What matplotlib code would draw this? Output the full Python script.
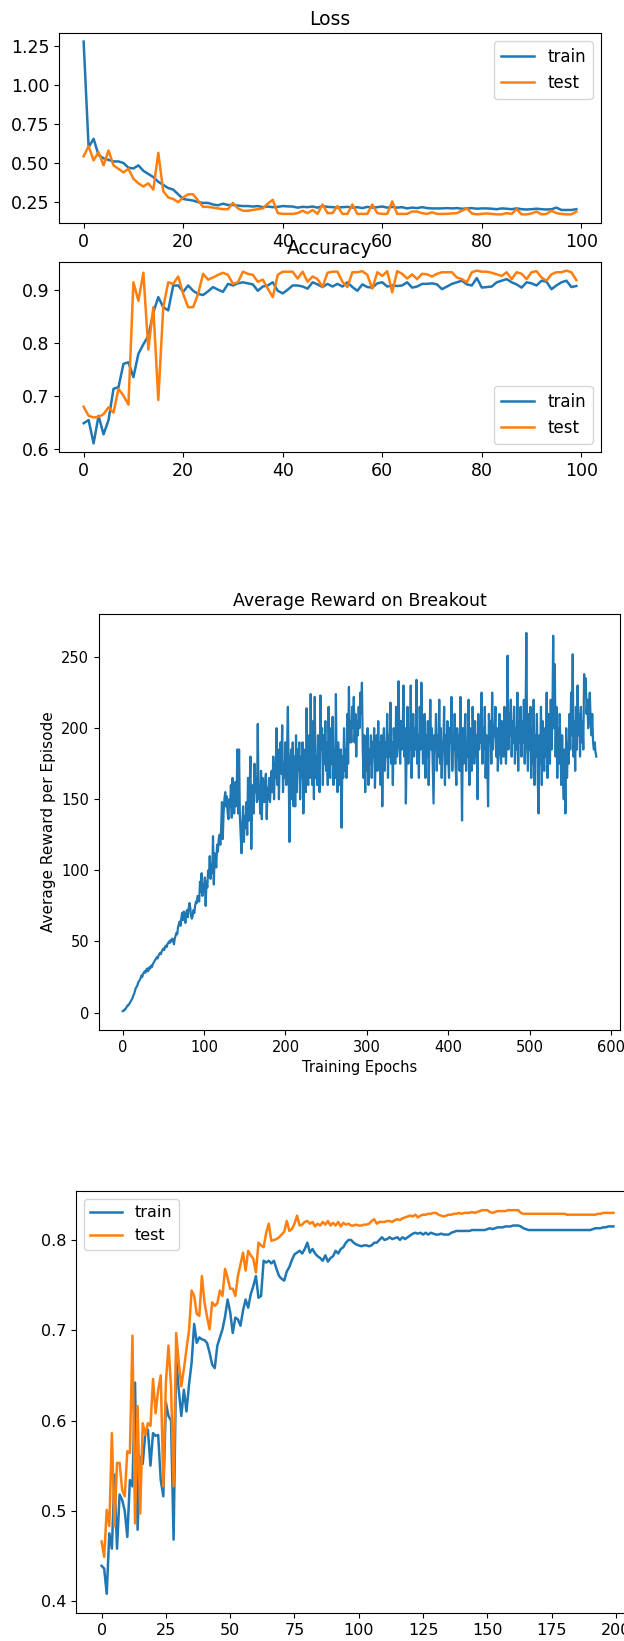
import numpy as np
import matplotlib
matplotlib.use("Agg")
import matplotlib.pyplot as plt

# ---- datos: loss / accuracy (100 epocas) ----
loss_train = [1.275, 0.60, 0.655, 0.55, 0.53, 0.52, 0.51, 0.51, 0.50, 0.47,
              0.465, 0.485, 0.45, 0.43, 0.41, 0.38, 0.36, 0.34, 0.33, 0.30,
              0.27, 0.265, 0.26, 0.25, 0.245, 0.245, 0.235, 0.23, 0.24, 0.232,
              0.232, 0.228, 0.225, 0.225, 0.222, 0.225, 0.218, 0.222, 0.218, 0.22,
              0.225, 0.223, 0.222, 0.215, 0.22, 0.218, 0.222, 0.215, 0.225, 0.22,
              0.218, 0.215, 0.218, 0.22, 0.215, 0.218, 0.212, 0.22, 0.215, 0.218,
              0.222, 0.215, 0.22, 0.215, 0.218, 0.21, 0.215, 0.212, 0.218, 0.212,
              0.21, 0.21, 0.21, 0.212, 0.21, 0.212, 0.208, 0.21, 0.212, 0.208,
              0.21, 0.21, 0.208, 0.205, 0.21, 0.208, 0.205, 0.21, 0.205, 0.203,
              0.205, 0.208, 0.205, 0.203, 0.205, 0.215, 0.20, 0.20, 0.20, 0.205]
loss_test = [0.543, 0.607, 0.517, 0.57, 0.485, 0.58, 0.485, 0.463, 0.44, 0.463,
             0.40, 0.37, 0.35, 0.37, 0.33, 0.565, 0.32, 0.28, 0.27, 0.25,
             0.28, 0.30, 0.30, 0.26, 0.22, 0.22, 0.215, 0.21, 0.205, 0.205,
             0.245, 0.21, 0.195, 0.195, 0.20, 0.205, 0.21, 0.24, 0.265, 0.18,
             0.175, 0.175, 0.175, 0.18, 0.195, 0.18, 0.20, 0.175, 0.235, 0.18,
             0.18, 0.225, 0.175, 0.175, 0.235, 0.175, 0.175, 0.175, 0.235, 0.18,
             0.175, 0.175, 0.255, 0.175, 0.175, 0.175, 0.19, 0.19, 0.18, 0.175,
             0.185, 0.175, 0.175, 0.175, 0.178, 0.18, 0.195, 0.21, 0.178, 0.172,
             0.175, 0.178, 0.175, 0.172, 0.172, 0.18, 0.175, 0.205, 0.172, 0.172,
             0.178, 0.19, 0.172, 0.175, 0.195, 0.18, 0.175, 0.172, 0.172, 0.19]
acc_train = [0.648, 0.654, 0.610, 0.662, 0.627, 0.654, 0.713, 0.716, 0.760, 0.763,
             0.735, 0.779, 0.797, 0.813, 0.857, 0.886, 0.867, 0.861, 0.908, 0.908,
             0.896, 0.908, 0.898, 0.892, 0.890, 0.897, 0.905, 0.900, 0.896, 0.911,
             0.908, 0.912, 0.914, 0.912, 0.910, 0.898, 0.906, 0.908, 0.914, 0.898,
             0.893, 0.900, 0.908, 0.908, 0.906, 0.902, 0.914, 0.910, 0.905, 0.911,
             0.906, 0.911, 0.906, 0.914, 0.905, 0.898, 0.910, 0.905, 0.904, 0.912,
             0.914, 0.906, 0.908, 0.907, 0.908, 0.914, 0.904, 0.906, 0.911, 0.911,
             0.912, 0.910, 0.901, 0.906, 0.911, 0.914, 0.917, 0.910, 0.908, 0.922,
             0.904, 0.905, 0.906, 0.914, 0.917, 0.920, 0.914, 0.910, 0.904, 0.914,
             0.912, 0.908, 0.917, 0.915, 0.901, 0.908, 0.914, 0.917, 0.905, 0.907]
acc_test = [0.679, 0.662, 0.659, 0.660, 0.665, 0.678, 0.668, 0.713, 0.700, 0.683,
            0.914, 0.879, 0.932, 0.787, 0.867, 0.692, 0.867, 0.914, 0.911, 0.925,
            0.892, 0.867, 0.867, 0.892, 0.930, 0.919, 0.923, 0.928, 0.932, 0.928,
            0.911, 0.914, 0.934, 0.930, 0.928, 0.915, 0.919, 0.902, 0.886, 0.928,
            0.934, 0.934, 0.934, 0.921, 0.934, 0.915, 0.925, 0.920, 0.905, 0.932,
            0.934, 0.934, 0.915, 0.905, 0.933, 0.933, 0.935, 0.928, 0.902, 0.933,
            0.926, 0.935, 0.895, 0.935, 0.930, 0.921, 0.929, 0.920, 0.930, 0.929,
            0.925, 0.930, 0.933, 0.933, 0.933, 0.923, 0.920, 0.914, 0.933, 0.936,
            0.934, 0.934, 0.932, 0.929, 0.926, 0.933, 0.920, 0.933, 0.930, 0.920,
            0.933, 0.935, 0.923, 0.917, 0.929, 0.933, 0.933, 0.936, 0.933, 0.918]

# ---- datos: breakout (583 epocas) ----
reward = [
    1, 1, 2, 2, 3, 4, 5, 5, 6, 7, 8, 9, 10, 12, 13, 15, 17, 18, 19, 21,
    22, 23, 24, 26, 25, 27, 28, 29, 28, 30, 31, 29, 30, 32, 31, 33, 32, 34, 35, 36,
    37, 38, 39, 38, 40, 41, 42, 41, 43, 44, 45, 44, 46, 47, 46, 48, 49, 50, 49, 51,
    50, 52, 51, 48, 52, 54, 56, 55, 60, 62, 64, 61, 66, 70, 65, 71, 68, 63, 70, 72,
    67, 73, 77, 74, 68, 66, 68, 72, 70, 75, 78, 77, 82, 80, 78, 92, 85, 98, 82, 90,
    85, 95, 75, 92, 88, 100, 96, 110, 94, 104, 98, 124, 90, 112, 108, 102, 118, 113, 122, 125,
    118, 130, 148, 122, 140, 150, 155, 145, 152, 140, 136, 150, 145, 160, 137, 165, 150, 140, 162, 145,
    155, 185, 140, 185, 138, 125, 112, 132, 145, 120, 138, 130, 148, 125, 165, 135, 158, 180, 115, 150,
    160, 140, 175, 155, 165, 148, 203, 150, 160, 140, 170, 136, 165, 155, 148, 162, 168, 136, 158, 150,
    165, 148, 160, 170, 155, 180, 150, 175, 165, 200, 160, 185, 150, 180, 190, 168, 202, 155, 175, 165,
    190, 160, 185, 215, 170, 120, 175, 185, 150, 190, 145, 180, 145, 195, 155, 185, 170, 190, 150, 180,
    165, 190, 140, 175, 185, 155, 214, 170, 160, 195, 165, 224, 175, 160, 205, 150, 222, 165, 180, 160,
    195, 170, 155, 223, 185, 200, 160, 195, 175, 205, 170, 190, 160, 215, 180, 165, 200, 175, 208, 160,
    185, 165, 224, 170, 155, 190, 175, 160, 185, 130, 180, 165, 200, 170, 185, 165, 210, 175, 229, 190,
    205, 190, 215, 200, 222, 190, 210, 180, 205, 195, 215, 200, 225, 210, 232, 185, 165, 195, 155, 190,
    170, 200, 160, 185, 175, 195, 165, 190, 180, 200, 158, 185, 195, 170, 205, 175, 190, 160, 195, 145,
    185, 200, 170, 190, 180, 210, 165, 195, 180, 218, 175, 190, 160, 200, 185, 175, 215, 180, 195, 233,
    190, 175, 205, 185, 195, 230, 180, 200, 147, 190, 215, 175, 200, 185, 230, 165, 195, 210, 180, 200,
    185, 234, 175, 195, 165, 215, 185, 232, 200, 175, 190, 210, 165, 195, 180, 205, 160, 190, 220, 185,
    200, 175, 147, 195, 185, 210, 170, 195, 180, 220, 175, 200, 165, 190, 185, 215, 160, 195, 175, 205,
    180, 165, 200, 190, 222, 170, 195, 185, 210, 175, 160, 200, 180, 195, 170, 222, 185, 135, 200, 175,
    195, 210, 170, 190, 180, 220, 160, 200, 185, 170, 215, 190, 175, 205, 180, 195, 150, 210, 185, 200,
    190, 225, 175, 200, 185, 215, 165, 195, 180, 145, 210, 190, 205, 175, 225, 185, 200, 195, 215, 180,
    200, 170, 190, 210, 185, 175, 205, 195, 180, 215, 190, 175, 200, 251, 185, 210, 195, 220, 180, 205,
    190, 215, 175, 200, 185, 225, 170, 205, 190, 215, 180, 205, 190, 220, 175, 200, 267, 190, 170, 210,
    185, 215, 165, 200, 175, 220, 160, 195, 180, 210, 165, 140, 195, 175, 215, 160, 205, 185, 170, 200,
    180, 225, 165, 210, 190, 175, 220, 185, 205, 265, 200, 245, 180, 215, 165, 200, 175, 210, 185, 160,
    195, 170, 150, 185, 140, 200, 165, 190, 175, 210, 185, 225, 195, 252, 180, 205, 170, 215, 185, 230,
    195, 210, 180, 215, 190, 205, 185, 238, 230, 235, 210, 220, 200, 215, 225, 205, 195, 210, 190, 185,
    190, 183, 180]

# ---- datos: ultima grafica (200 epocas) ----
acc2_train = [
    0.439, 0.436, 0.408, 0.475, 0.458, 0.540, 0.458, 0.518, 0.512, 0.500,
    0.471, 0.534, 0.527, 0.642, 0.479, 0.560, 0.552, 0.586, 0.590, 0.550,
    0.586, 0.583, 0.584, 0.534, 0.516, 0.620, 0.605, 0.600, 0.468, 0.668,
    0.634, 0.605, 0.634, 0.610, 0.640, 0.664, 0.707, 0.686, 0.692, 0.690,
    0.689, 0.686, 0.675, 0.662, 0.658, 0.683, 0.692, 0.701, 0.715, 0.734,
    0.720, 0.697, 0.714, 0.712, 0.705, 0.722, 0.734, 0.725, 0.740, 0.749,
    0.760, 0.736, 0.738, 0.777, 0.775, 0.777, 0.774, 0.777, 0.768, 0.760,
    0.757, 0.755, 0.765, 0.770, 0.778, 0.784, 0.786, 0.788, 0.785, 0.790,
    0.797, 0.786, 0.790, 0.785, 0.782, 0.780, 0.777, 0.783, 0.776, 0.780,
    0.782, 0.788, 0.785, 0.790, 0.792, 0.797, 0.800, 0.800, 0.797, 0.795,
    0.794, 0.793, 0.794, 0.794, 0.793, 0.794, 0.797, 0.797, 0.800, 0.803,
    0.800, 0.801, 0.803, 0.801, 0.802, 0.803, 0.800, 0.803, 0.801, 0.803,
    0.805, 0.807, 0.808, 0.807, 0.808, 0.806, 0.808, 0.806, 0.808, 0.807,
    0.806, 0.806, 0.807, 0.806, 0.806, 0.806, 0.808, 0.809, 0.810, 0.810,
    0.810, 0.810, 0.810, 0.810, 0.811, 0.811, 0.811, 0.811, 0.811, 0.811,
    0.812, 0.813, 0.812, 0.813, 0.814, 0.814, 0.814, 0.815, 0.815, 0.815,
    0.816, 0.816, 0.816, 0.815, 0.813, 0.812, 0.811, 0.811, 0.811, 0.811,
    0.811, 0.811, 0.811, 0.811, 0.811, 0.811, 0.811, 0.811, 0.811, 0.811,
    0.811, 0.811, 0.811, 0.811, 0.811, 0.811, 0.811, 0.811, 0.811, 0.811,
    0.811, 0.812, 0.813, 0.813, 0.813, 0.814, 0.814, 0.815, 0.815, 0.815]
acc2_test = [
    0.466, 0.449, 0.501, 0.483, 0.586, 0.483, 0.553, 0.553, 0.523, 0.516,
    0.566, 0.564, 0.694, 0.486, 0.616, 0.497, 0.597, 0.584, 0.597, 0.594,
    0.646, 0.608, 0.634, 0.650, 0.527, 0.642, 0.683, 0.638, 0.527, 0.697,
    0.664, 0.638, 0.657, 0.679, 0.700, 0.744, 0.738, 0.718, 0.716, 0.760,
    0.731, 0.715, 0.701, 0.731, 0.727, 0.730, 0.744, 0.738, 0.768, 0.758,
    0.746, 0.746, 0.738, 0.760, 0.773, 0.786, 0.766, 0.788, 0.783, 0.779,
    0.764, 0.797, 0.794, 0.792, 0.808, 0.818, 0.799, 0.800, 0.801, 0.803,
    0.806, 0.809, 0.821, 0.810, 0.812, 0.818, 0.827, 0.816, 0.817, 0.820,
    0.821, 0.818, 0.820, 0.815, 0.818, 0.816, 0.820, 0.817, 0.821, 0.816,
    0.819, 0.816, 0.820, 0.815, 0.819, 0.817, 0.818, 0.816, 0.816, 0.817,
    0.816, 0.816, 0.817, 0.817, 0.818, 0.821, 0.823, 0.818, 0.820, 0.820,
    0.820, 0.821, 0.821, 0.820, 0.822, 0.823, 0.822, 0.824, 0.825, 0.826,
    0.827, 0.826, 0.828, 0.825, 0.827, 0.828, 0.828, 0.829, 0.829, 0.830,
    0.830, 0.828, 0.827, 0.826, 0.827, 0.828, 0.828, 0.829, 0.829, 0.830,
    0.829, 0.830, 0.830, 0.830, 0.831, 0.830, 0.831, 0.832, 0.833, 0.833,
    0.833, 0.831, 0.830, 0.831, 0.832, 0.832, 0.832, 0.832, 0.833, 0.833,
    0.833, 0.833, 0.833, 0.830, 0.829, 0.829, 0.829, 0.829, 0.829, 0.829,
    0.829, 0.829, 0.829, 0.829, 0.829, 0.829, 0.829, 0.829, 0.829, 0.829,
    0.829, 0.828, 0.828, 0.828, 0.828, 0.828, 0.828, 0.828, 0.828, 0.828,
    0.828, 0.828, 0.828, 0.829, 0.829, 0.830, 0.830, 0.830, 0.830, 0.830]

W, H = 624, 1641
fig = plt.figure(figsize=(W / 100, H / 100), dpi=100)


def rect(left, top, right, bottom):
    # caja en pixeles -> fraccion de la figura
    return [left / W, (H - bottom) / H, (right - left) / W, (bottom - top) / H]


lw = 1.8

# Loss
ax1 = fig.add_axes(rect(59, 33, 601, 223))
ax1.plot(loss_train, label="train", lw=lw)
ax1.plot(loss_test, label="test", lw=lw)
ax1.set_title("Loss", fontsize=13.5)
ax1.legend(loc="upper right", fontsize=12)
ax1.tick_params(labelsize=12.5)

# Accuracy (el titulo pisa las etiquetas de arriba, igual que la original)
ax2 = fig.add_axes(rect(59, 262, 601, 452))
ax2.plot(acc_train, label="train", lw=lw)
ax2.plot(acc_test, label="test", lw=lw)
ax2.set_title("Accuracy", fontsize=13.5)
ax2.legend(loc="lower right", fontsize=12)
ax2.tick_params(labelsize=12.5)

# Breakout
ax3 = fig.add_axes(rect(99, 614, 620, 1030))
ax3.plot(reward, lw=1.6)
ax3.set_title("Average Reward on Breakout", fontsize=12.5)
ax3.set_xlabel("Training Epochs", fontsize=10.5)
ax3.set_ylabel("Average Reward per Episode", fontsize=11)
ax3.tick_params(labelsize=10.5)

# ultima grafica (se sale por la derecha, como en la original)
ax4 = fig.add_axes(rect(76, 1191, 639, 1613))
ax4.plot(acc2_train, label="train", lw=lw)
ax4.plot(acc2_test, label="test", lw=lw)
ax4.legend(loc="upper left", fontsize=11.5)
ax4.tick_params(labelsize=11.5)
ax4.set_xticks(np.arange(0, 201, 25))

fig.savefig("out.png", dpi=100)
